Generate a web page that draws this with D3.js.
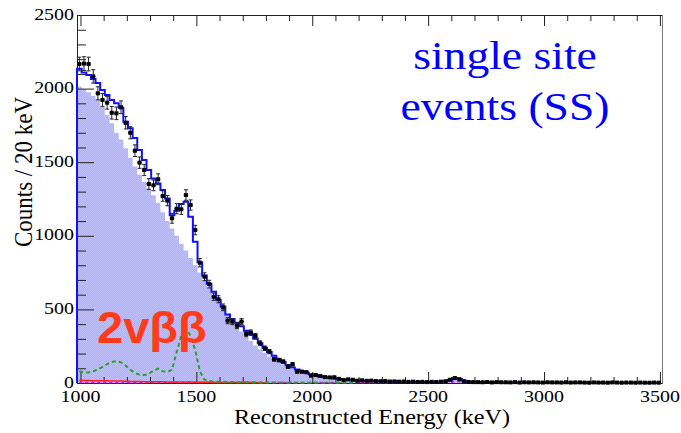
<!DOCTYPE html>
<html>
<head>
<meta charset="utf-8">
<script src="https://cdn.jsdelivr.net/npm/d3@7"></script>
<style>
  html, body { margin: 0; padding: 0; background: #fff; }
  svg { display: block; }
</style>
</head>
<body>
<div id="app"></div>
<script>
// Histogram: 20 keV bins, first bin edge at 985 keV
const binStart = 985;
const binWidth = 20;

// Measured counts per bin (black points)
const counts = [
  2167, 2170, 2167, 2083, 1968, 1923, 1904, 1836, 1832, 1873,
  1768, 1700, 1578, 1497, 1447, 1352, 1343, 1384, 1270, 1239,
  1119, 1184, 1180, 1277, 1209, 1039, 817, 722, 672, 586,
  569, 514, 423, 417, 389, 417, 333, 342, 319, 270,
  236, 213, 161, 156, 145, 111, 127, 77, 77, 73,
  50, 54, 48, 40, 38, 39, 28, 20, 25, 22,
  16, 18, 15, 16, 13, 12, 14, 10, 11, 9,
  10, 8, 9, 7, 8, 6, 8, 7, 9, 12,
  22, 34, 26, 12, 7, 6,
  6, 5, 7, 4, 6, 5, 5, 4, 6, 3,
  5, 4, 5, 4, 3, 5, 4, 4, 3, 5,
  3, 4, 4, 3, 2, 4, 3, 3, 2, 4,
  3, 2, 3, 3, 2, 3, 2, 2, 3, 2
];

// Total fit (blue step line)
const totalFit = [
  2135, 2110, 2092, 2065, 2038, 1990, 1956, 1923, 1900, 1870,
  1775, 1730, 1664, 1583, 1515, 1447, 1390, 1356, 1311, 1254,
  1140, 1170, 1216, 1232, 1130, 960, 820, 730, 675, 620,
  565, 520, 465, 435, 410, 385, 355, 330, 300, 270,
  240, 210, 185, 162, 142, 122, 106, 92, 80, 70,
  60, 52, 45, 39, 35, 31, 27, 24, 21, 19,
  17, 16, 15, 14, 13, 12, 11, 10, 10, 9,
  9, 8, 8, 8, 7, 7, 7, 8, 10, 14,
  22, 32, 28, 16, 9, 6,
  6, 6, 5, 5, 5, 5, 5, 5, 4, 4,
  4, 4, 4, 4, 4, 4, 4, 3, 3, 3,
  3, 3, 3, 3, 3, 3, 3, 3, 3, 3,
  2, 2, 2, 2, 2, 2, 2, 2, 2, 2
];

// Backgrounds (filled lavender histogram)
const background = [
  2015, 1995, 1975, 1950, 1925, 1875, 1820, 1765, 1700, 1655,
  1595, 1530, 1470, 1415, 1365, 1320, 1275, 1225, 1160, 1100,
  1050, 1000, 945, 900, 850, 800, 750, 700, 645, 600,
  555, 515, 460, 425, 385, 350, 315, 285, 255, 230,
  205, 180, 165, 145, 125, 108, 95, 84, 74, 66,
  56, 48, 42, 36, 32, 28, 24, 21, 19, 17,
  15, 14, 13, 12, 11, 10, 9, 9, 8, 8,
  7, 7, 7, 6, 6, 6, 6, 7, 8, 12,
  19, 28, 24, 13, 7, 5,
  5, 5, 5, 4, 4, 4, 4, 4, 4, 4,
  3, 3, 3, 3, 3, 3, 3, 3, 3, 3,
  3, 3, 2, 2, 2, 2, 2, 2, 2, 2,
  2, 2, 2, 2, 2, 2, 2, 2, 2, 2
];

// Green dashed component
const greenComp = [
  80, 72, 72, 80, 92, 110, 128, 142, 148, 140,
  118, 90, 68, 56, 54, 62, 84, 98, 80, 75,
  90, 210, 320, 385, 315, 225, 80, 22, 13, 10,
  8, 8, 7, 6, 6, 5, 5, 5, 4, 4,
  4, 3, 3, 3, 3, 2, 2, 2, 2, 2,
  2, 2, 1, 1, 1, 1, 1, 1, 1, 1
];

// Small components near zero
const redComp = [
  18, 17, 17, 16, 16, 15, 15, 14, 14, 13,
  12, 11, 10, 10, 9, 9, 8, 8, 8, 7,
  7, 7, 6, 6, 6, 5, 5, 5, 5, 4,
  4, 4, 4, 3, 3, 3, 3, 3, 3, 2, 2
];
const magentaComp = [
  5, 5, 5, 5, 4, 4, 4, 4, 4, 4,
  4, 4, 4, 4, 4, 4, 3, 3, 3, 3,
  3, 3, 3, 3, 3, 3, 3, 3, 3, 3,
  3, 3, 3, 3, 3, 3, 3, 3, 3, 3,
  3, 3, 3, 3, 3, 3, 3, 3, 3, 3,
  3, 3, 3, 3, 3, 3, 3, 3, 3, 3,
  3, 3, 3, 3, 3, 3, 3, 3, 3, 3,
  3, 3, 3, 3, 3, 3, 3, 3, 4, 5,
  7, 9, 8, 5, 3, 3,
  3, 3, 3, 3, 3, 3, 3, 3, 3, 3,
  3, 3, 3, 3, 3, 3, 3, 3, 3, 3,
  3, 3, 3, 3, 3, 3, 3, 3, 3, 3,
  3, 3, 3, 3, 3, 3, 3, 3, 3, 3
];

const xMajor = [1000, 1500, 2000, 2500, 3000, 3500];
const xMinor = [1100, 1200, 1300, 1400, 1600, 1700, 1800, 1900, 2100, 2200, 2300, 2400,
                2600, 2700, 2800, 2900, 3100, 3200, 3300, 3400];
const yMajor = [0, 500, 1000, 1500, 2000, 2500];
const yMinor = [100, 200, 300, 400, 600, 700, 800, 900, 1100, 1200, 1300, 1400,
                1600, 1700, 1800, 1900, 2100, 2200, 2300, 2400];

// SVG container
const width = 681;
const height = 433;
const plot = { left: 77, right: 662, top: 15, bottom: 383 };
const SX = 1.14; // picture is stretched sideways, so is its text
const serif = '"Liberation Serif", "Times New Roman", serif';

const svg = d3.select('#app').append('svg')
  .attr('width', width)
  .attr('height', height)
  .style('background-color', '#fff');

const xScale = d3.scaleLinear().domain([985, 3509]).range([plot.left, plot.right]);
const yScale = d3.scaleLinear().domain([0, 2500]).range([plot.bottom, plot.top]);

// dithered lavender fill like the ROOT export
const pat = svg.append('defs').append('pattern')
  .attr('id', 'dither')
  .attr('patternUnits', 'userSpaceOnUse')
  .attr('width', 2)
  .attr('height', 2);
pat.append('rect').attr('width', 2).attr('height', 2).attr('fill', '#b0b0f8');
pat.append('rect').attr('width', 1).attr('height', 1).attr('fill', '#bfbffa');
pat.append('rect').attr('x', 1).attr('y', 1).attr('width', 1).attr('height', 1).attr('fill', '#bfbffa');

const edge = i => binStart + i * binWidth;
const centre = i => binStart + (i + 0.5) * binWidth;

// step points: up from zero at the first edge, one step per bin
const stepPoints = vals => [[edge(0), 0], ...vals.map((v, i) => [edge(i), v]), [edge(vals.length), vals[vals.length - 1]]];

// Background fill
svg.append('path')
  .datum(stepPoints(background))
  .attr('fill', 'url(#dither)')
  .attr('d', d3.area()
    .x(d => xScale(d[0]))
    .y0(yScale(0))
    .y1(d => yScale(d[1]))
    .curve(d3.curveStepAfter));

// Axes
const axisColor = '#222';
function styleAxis(g) {
  g.selectAll('.domain').attr('stroke', axisColor);
  g.selectAll('.tick line').attr('stroke', axisColor);
  g.selectAll('.tick text').remove();
}

svg.append('g').attr('transform', `translate(0,${plot.bottom})`)
  .call(d3.axisBottom(xScale).tickValues(xMajor).tickSizeInner(-11).tickSizeOuter(0).tickFormat(''))
  .call(styleAxis);
svg.append('g').attr('transform', `translate(0,${plot.bottom})`)
  .call(d3.axisBottom(xScale).tickValues(xMinor).tickSizeInner(-6).tickSizeOuter(0).tickFormat(''))
  .call(styleAxis);
svg.append('g').attr('transform', `translate(0,${plot.top})`)
  .call(d3.axisTop(xScale).tickValues(xMajor).tickSizeInner(-11).tickSizeOuter(0).tickFormat(''))
  .call(styleAxis);
svg.append('g').attr('transform', `translate(0,${plot.top})`)
  .call(d3.axisTop(xScale).tickValues(xMinor).tickSizeInner(-6).tickSizeOuter(0).tickFormat(''))
  .call(styleAxis);
svg.append('g').attr('transform', `translate(${plot.left},0)`)
  .call(d3.axisLeft(yScale).tickValues(yMajor).tickSizeInner(-17).tickSizeOuter(0).tickFormat(''))
  .call(styleAxis);
svg.append('g').attr('transform', `translate(${plot.left},0)`)
  .call(d3.axisLeft(yScale).tickValues(yMinor).tickSizeInner(-9).tickSizeOuter(0).tickFormat(''))
  .call(styleAxis);
// right frame
svg.append('line')
  .attr('x1', plot.right + 0.5).attr('x2', plot.right + 0.5)
  .attr('y1', plot.top).attr('y2', plot.bottom)
  .attr('stroke', '#777');

// tick labels (stretched serif)
svg.append('g').selectAll('text')
  .data(xMajor)
  .join('text')
  .attr('transform', d => `translate(${xScale(d)},401.5) scale(${SX},1)`)
  .attr('text-anchor', 'middle')
  .attr('font-family', serif)
  .attr('font-size', '17.5px')
  .attr('fill', '#000')
  .text(d => d);

svg.append('g').selectAll('text')
  .data(yMajor)
  .join('text')
  .attr('transform', d => `translate(74,${yScale(d) + 4.5}) scale(${SX},1)`)
  .attr('text-anchor', 'end')
  .attr('font-family', serif)
  .attr('font-size', '17.5px')
  .attr('fill', '#000')
  .text(d => d);

// axis titles
svg.append('text')
  .attr('transform', `translate(372,424) scale(1.1,1)`)
  .attr('text-anchor', 'middle')
  .attr('font-family', serif)
  .attr('font-size', '22px')
  .attr('fill', '#000')
  .text('Reconstructed Energy (keV)');

svg.append('text')
  .attr('transform', `translate(32,172) scale(${SX},1) rotate(-90)`)
  .attr('text-anchor', 'middle')
  .attr('font-family', serif)
  .attr('font-size', '23px')
  .attr('fill', '#000')
  .text('Counts / 20 keV');

// components through bin centres
const compLine = d3.line()
  .x((d, i) => xScale(centre(i)))
  .y(d => yScale(d));

svg.append('path')
  .datum(magentaComp)
  .attr('fill', 'none')
  .attr('stroke', '#ff00ff')
  .attr('stroke-width', 1.5)
  .attr('stroke-dasharray', '3,3')
  .attr('d', compLine);

svg.append('path')
  .datum(redComp)
  .attr('fill', 'none')
  .attr('stroke', '#ff2020')
  .attr('stroke-width', 1.5)
  .attr('d', compLine);

svg.append('path')
  .datum(greenComp)
  .attr('fill', 'none')
  .attr('stroke', '#2e9e2e')
  .attr('stroke-width', 2)
  .attr('stroke-dasharray', '4,3')
  .attr('d', compLine);

// Total fit step line
svg.append('path')
  .datum(stepPoints(totalFit))
  .attr('fill', 'none')
  .attr('stroke', '#1010ff')
  .attr('stroke-width', 2)
  .attr('d', d3.line()
    .x(d => xScale(d[0]))
    .y(d => yScale(d[1]))
    .curve(d3.curveStepAfter));

// Data points with sqrt(N) error bars
const pts = svg.append('g')
  .selectAll('g')
  .data(counts)
  .join('g')
  .attr('transform', (d, i) => `translate(${xScale(centre(i))},${yScale(d)})`);

pts.append('line')
  .attr('y1', d => yScale(d - Math.sqrt(d)) - yScale(d))
  .attr('y2', d => yScale(d + Math.sqrt(d)) - yScale(d))
  .attr('stroke', '#222')
  .attr('stroke-width', 1);
pts.append('line')
  .attr('x1', -2).attr('x2', 2)
  .attr('y1', d => yScale(d - Math.sqrt(d)) - yScale(d))
  .attr('y2', d => yScale(d - Math.sqrt(d)) - yScale(d))
  .attr('stroke', '#222');
pts.append('line')
  .attr('x1', -2).attr('x2', 2)
  .attr('y1', d => yScale(d + Math.sqrt(d)) - yScale(d))
  .attr('y2', d => yScale(d + Math.sqrt(d)) - yScale(d))
  .attr('stroke', '#222');
pts.append('line')
  .attr('x1', -binWidth / 2 * (xScale(1) - xScale(0)))
  .attr('x2', binWidth / 2 * (xScale(1) - xScale(0)))
  .attr('stroke', '#222');
pts.append('rect')
  .attr('x', -2).attr('y', -2)
  .attr('width', 4).attr('height', 4)
  .attr('fill', '#000');

// Annotations
svg.append('text')
  .attr('transform', `translate(505,69) scale(${SX},1)`)
  .attr('text-anchor', 'middle')
  .attr('font-family', serif)
  .attr('font-size', '40px')
  .attr('fill', '#0000ff')
  .text('single site');
svg.append('text')
  .attr('transform', `translate(505,120) scale(${SX},1)`)
  .attr('text-anchor', 'middle')
  .attr('font-family', serif)
  .attr('font-size', '40px')
  .attr('fill', '#0000ff')
  .text('events (SS)');

svg.append('text')
  .attr('transform', `translate(97,343) scale(1.07,1)`)
  .attr('font-family', '"Liberation Sans", Arial, sans-serif')
  .attr('font-weight', 'bold')
  .attr('font-size', '44px')
  .attr('fill', '#ff3b1a')
  .text('2vββ');
</script>
</body>
</html>
